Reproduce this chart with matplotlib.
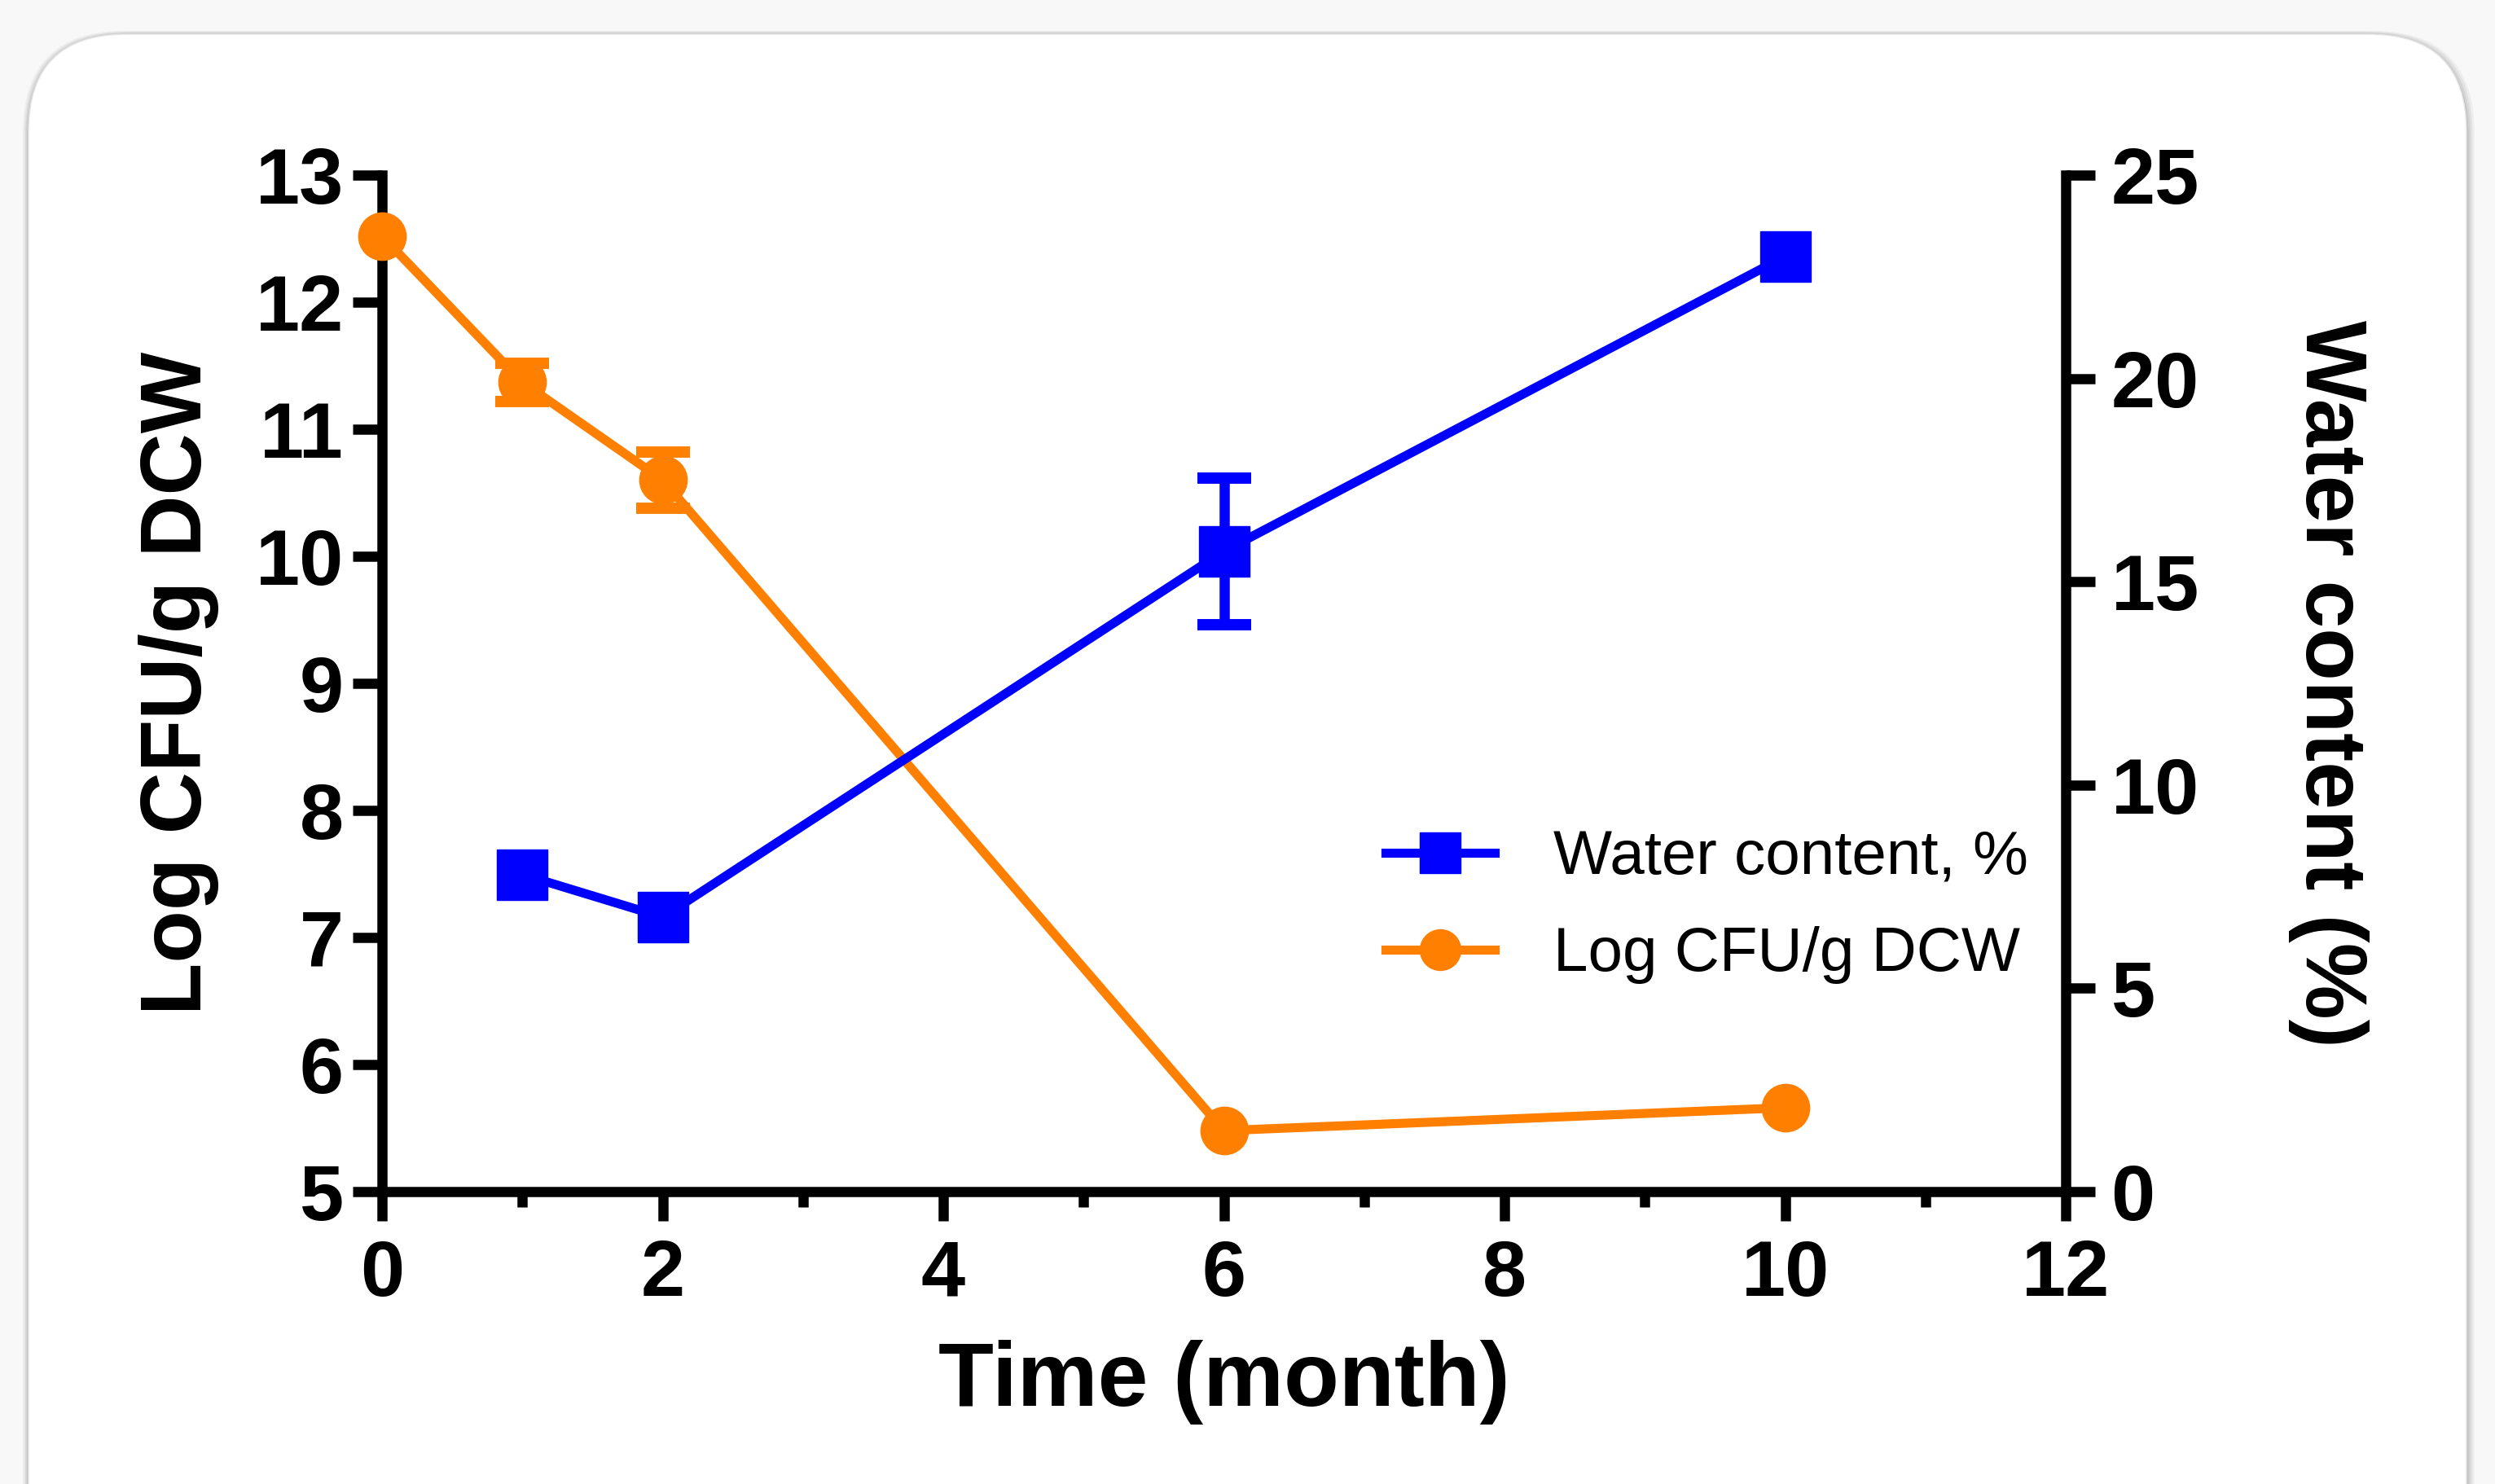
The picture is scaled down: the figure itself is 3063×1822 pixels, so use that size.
import matplotlib
matplotlib.use("Agg")
from matplotlib import pyplot as plt
from matplotlib.patches import FancyBboxPatch
from matplotlib.lines import Line2D
from matplotlib.transforms import IdentityTransform
from matplotlib.ticker import MultipleLocator

# data
months_cfu = [0, 1, 2, 6, 10]
log_cfu = [12.52, 11.37, 10.60, 5.48, 5.66]
log_cfu_err = [0.0, 0.15, 0.22, 0.0, 0.0]

months_water = [1, 2, 6, 10]
water = [7.8, 6.75, 15.75, 23.0]
water_err = [0.0, 0.0, 1.8, 0.0]

x_ticks = [0, 2, 4, 6, 8, 10, 12]
left_ticks = [5, 6, 7, 8, 9, 10, 11, 12, 13]
right_ticks = [0, 5, 10, 15, 20, 25]

orange = "#ff7f00"
blue = "#0000ff"

plt.rcParams["font.family"] = ["Liberation Sans", "DejaVu Sans"]

W, H, DPI = 3063, 1822, 100
fig = plt.figure(figsize=(W / DPI, H / DPI), dpi=DPI, facecolor="#f8f8f8")

# rounded card with a soft shadow
for i, a in enumerate([0.04, 0.05, 0.06, 0.08]):
    off = 14 - i * 3.5
    sh = FancyBboxPatch((35 - off * 0.5, -200 - off), 2993 + off * 1.2, 1980 + off * 1.3,
                        boxstyle="round,pad=0,rounding_size=125",
                        transform=IdentityTransform(), facecolor="black",
                        edgecolor="none", alpha=a, zorder=-5)
    fig.patches.append(sh)
card = FancyBboxPatch((35, -200), 2993, 1980, boxstyle="round,pad=0,rounding_size=120",
                      transform=IdentityTransform(), facecolor="white",
                      edgecolor="#e6e6e6", linewidth=1, zorder=-4)
fig.patches.append(card)

ax = fig.add_axes([469 / W, 1 - 1463 / H, (2536 - 469) / W, (1463 - 215) / H])
ax.set_facecolor("none")
ax2 = ax.twinx()
ax2.set_facecolor("none")

lw = 8
spw = 9


def draw_series(a, xs, ys, errs, color, marker, ms):
    a.plot(xs, ys, color=color, lw=lw, marker=marker, markersize=ms, clip_on=False, zorder=3)
    ex = [x for x, e in zip(xs, errs) if e > 0]
    ey = [y for y, e in zip(ys, errs) if e > 0]
    ee = [e for e in errs if e > 0]
    a.errorbar(ex, ey, yerr=ee, fmt="none", ecolor=color, elinewidth=9, capsize=24,
               capthick=10, clip_on=False, zorder=3)


draw_series(ax, months_cfu, log_cfu, log_cfu_err, orange, "o", 42)
draw_series(ax2, months_water, water, water_err, blue, "s", 45)

ax.set_xlim(0, 12)
ax.set_ylim(5, 13)
ax2.set_ylim(0, 25)
ax.set_xticks(x_ticks)
ax.xaxis.set_minor_locator(MultipleLocator(1))
ax.set_yticks(left_ticks)
ax2.set_yticks(right_ticks)

for a in (ax, ax2):
    a.spines["top"].set_visible(False)
    for s in ("left", "right", "bottom"):
        a.spines[s].set_linewidth(spw)
ax.spines["right"].set_visible(False)
ax2.spines["left"].set_visible(False)
ax2.spines["bottom"].set_visible(False)

ax.tick_params(axis="y", which="major", length=26, width=spw, labelsize=70, pad=8)
ax.tick_params(axis="x", which="major", length=26, width=spw, labelsize=70, pad=16)
ax.tick_params(axis="x", which="minor", length=14, width=spw)
ax2.tick_params(axis="y", which="major", length=26, width=spw, labelsize=70, pad=14)
for lab in ax.get_xticklabels() + ax.get_yticklabels() + ax2.get_yticklabels():
    lab.set_fontweight("bold")

ax.set_xlabel("Time (month)", fontsize=80, fontweight="bold", labelpad=24)
ax.set_ylabel("Log CFU/g DCW", fontsize=76, fontweight="bold", labelpad=32)
ax2.set_ylabel("Water content (%)", fontsize=76, fontweight="bold", rotation=270,
               labelpad=150)

handles = [
    Line2D([], [], color=blue, lw=lw, marker="s", markersize=36),
    Line2D([], [], color=orange, lw=lw, marker="o", markersize=36),
]
labels = ["Water content, %", "Log CFU/g DCW"]
ax2.legend(handles, labels, loc="center left", bbox_to_anchor=(0.596, 0.28),
           frameon=False, fontsize=55, handlelength=1.75, handletextpad=0.95,
           labelspacing=0.62, borderpad=0, borderaxespad=0)

fig.savefig("out.png", dpi=DPI, facecolor=fig.get_facecolor())
